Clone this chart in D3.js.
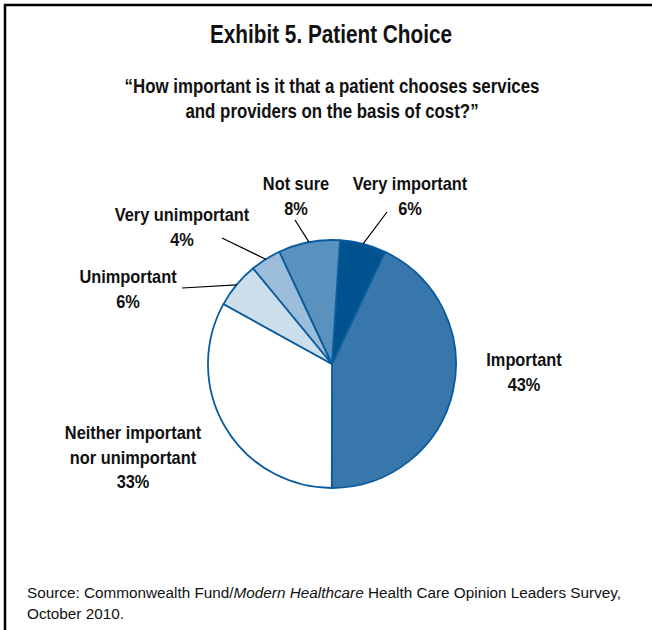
<!DOCTYPE html>
<html>
<head>
<meta charset="utf-8">
<script src="https://cdn.jsdelivr.net/npm/d3@7"></script>
<style>
  body { margin: 0; background: #fff; }
  svg { display: block; }
  .cond { font-family: "Liberation Sans", Arial, sans-serif; font-weight: bold; fill: #111; }
  .src { font-family: "Liberation Sans", Arial, sans-serif; font-size: 15.3px; fill: #111; }
</style>
</head>
<body>
<script>
// data, clockwise from the top
const categories = ['Very important', 'Important', 'Neither important nor unimportant', 'Unimportant', 'Very unimportant', 'Not sure'];
const values = [6, 43, 33, 6, 4, 8];
const labelLines = [
  ['Very important', '6%'],
  ['Important', '43%'],
  ['Neither important', 'nor unimportant', '33%'],
  ['Unimportant', '6%'],
  ['Very unimportant', '4%'],
  ['Not sure', '8%']
];
const colors = ['#00538f', '#3777ab', '#ffffff', '#ccdeeb', '#9bbdd9', '#5a92bf'];

const W = 652, H = 630;
const cx = 332, cy = 364, R = 124;

const svg = d3.select('body').append('svg')
  .attr('width', W)
  .attr('height', H);

// frame (left + top)
svg.append('path')
  .attr('d', `M5,${H} L5,5 L${W},5`)
  .attr('fill', 'none')
  .attr('stroke', '#000')
  .attr('stroke-width', 2.5);

// narrow bold text: squeeze a normal bold face horizontally
function narrowText(x, y, str, size, sx) {
  return svg.append('text').attr('class', 'cond')
    .attr('transform', `translate(${x},${y}) scale(${sx},1)`)
    .attr('text-anchor', 'middle')
    .style('font-size', size + 'px')
    .text(str);
}

// title + question
narrowText(331, 43, 'Exhibit 5. Patient Choice', 25, 0.83);
const q = ['\u201CHow important is it that a patient chooses services', 'and providers on the basis of cost?\u201D'];
q.forEach((s, i) => narrowText(332, 93 + i * 25, s, 19.5, 0.865));

// pie
const a0 = 3.7 * Math.PI / 180;
const pie = d3.pie().sort(null).startAngle(a0).endAngle(a0 + 2 * Math.PI);
const arcs = pie(values);
const arc = d3.arc().innerRadius(0).outerRadius(R);

const g = svg.append('g').attr('transform', `translate(${cx},${cy})`);
g.selectAll('path').data(arcs).enter().append('path')
  .attr('d', arc)
  .attr('fill', (d, i) => colors[i])
  .attr('stroke', '#0b5c9e')
  .attr('stroke-width', 1.8)
  .attr('stroke-linejoin', 'round');

// labels
const labelPos = [
  { x: 410, y: 190, lx: 387, ly: 212 },
  { x: 524, y: 366 },
  { x: 133, y: 439 },
  { x: 128, y: 283, lx: 182, ly: 288 },
  { x: 182, y: 221, lx: 222, ly: 238 },
  { x: 296, y: 190, lx: 295, ly: 220 }
];

const midPoint = d => {
  const a = (d.startAngle + d.endAngle) / 2;
  return [cx + R * Math.sin(a), cy - R * Math.cos(a)];
};

arcs.forEach((d, i) => {
  const p = labelPos[i];
  if (p.lx !== undefined) {
    const [sx, sy] = midPoint(d);
    svg.append('line')
      .attr('x1', sx).attr('y1', sy)
      .attr('x2', p.lx).attr('y2', p.ly)
      .attr('stroke', '#000')
      .attr('stroke-width', 1.2);
  }
  labelLines[i].forEach((s, j) => narrowText(p.x, p.y + j * 24.5, s, 18, 0.91));
});

// source
const src = svg.append('text').attr('class', 'src').attr('x', 27).attr('y', 598);
src.append('tspan').text('Source: Commonwealth Fund/');
src.append('tspan').style('font-style', 'italic').text('Modern Healthcare');
src.append('tspan').text(' Health Care Opinion Leaders Survey,');
svg.append('text').attr('class', 'src').attr('x', 27).attr('y', 619).text('October 2010.');
</script>
</body>
</html>
